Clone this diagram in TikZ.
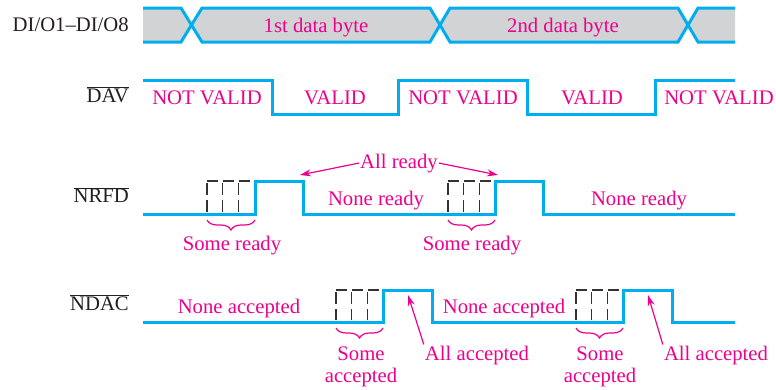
\documentclass[tikz,border=0pt]{standalone}
\usepackage{fontspec}
\setmainfont{Liberation Serif}
\usetikzlibrary{arrows.meta, decorations.pathreplacing, positioning}
\definecolor{sigcyan}{HTML}{00AEEF}
\definecolor{notepink}{HTML}{EC008C}
\definecolor{busgray}{HTML}{D1D3D4}
\definecolor{inkdark}{HTML}{231F20}
\tikzset{
  signame/.style={
    anchor=east, inner sep=1pt, text=inkdark,
    font=\fontsize{20.7}{23}\selectfont
  },
  note/.style={
    anchor=base, inner sep=1pt, text=notepink, align=center,
    font=\fontsize{20.7}{22}\selectfont
  },
  wave/.style={draw=sigcyan, line width=3pt, line join=miter},
  ghost/.style={draw=black!80, line width=1.2pt},
  pointer/.style={-{Stealth[length=11pt,width=7pt]}, draw=notepink, line width=1.2pt},
  curly/.style={
    draw=notepink, line width=1.2pt, decorate,
    decoration={brace, mirror, amplitude=10pt}
  }
}

\begin{document}
\begin{tikzpicture}[x=1pt, y=-1pt]
  \useasboundingbox (0,0) rectangle (776,389);

  % signal names
  \node[signame] (busname) at (130,25) {DI/O1--DI/O8};
  \node[signame] (davname) at (130,95) {\(\overline{\mbox{DAV}}\)};
  \node[signame] (nrfdname) at (130,195) {\(\overline{\mbox{NRFD}}\)};
  \node[signame] (ndacname) at (130,303) {\(\overline{\mbox{NDAC}}\)};

  % data bus
  \fill[busgray] (143,8) -- (181,8) -- (192,25) -- (202,8) -- (430,8) -- (440,25)
    -- (450,8) -- (678,8) -- (688,25) -- (698,8) -- (735,8) -- (735,42)
    -- (698,42) -- (688,25) -- (678,42) -- (450,42) -- (440,25) -- (430,42)
    -- (202,42) -- (192,25) -- (181,42) -- (143,42) -- cycle;
  \draw[wave] (143,8) -- (181,8) -- (202,42) -- (430,42) -- (450,8) -- (678,8)
    -- (698,42) -- (735,42);
  \draw[wave] (143,42) -- (181,42) -- (202,8) -- (430,8) -- (450,42) -- (678,42)
    -- (698,8) -- (735,8);
  \node[note] (byte1) at (316,32) {1st data byte};
  \node[note] (byte2) at (563,32) {2nd data byte};

  % DAV
  \draw[wave] (143,80) -- (272,80) -- (272,114) -- (398,114) -- (398,80)
    -- (527,80) -- (527,114) -- (655,114) -- (655,80) -- (735,80);
  \node[note] (nv1) at (207,104) {NOT VALID};
  \node[note] (v1) at (335,104) {VALID};
  \node[note] (nv2) at (463,104) {NOT VALID};
  \node[note] (v2) at (592,104) {VALID};
  \node[note] (nv3) at (719,104) {NOT VALID};

  % NRFD and NDAC
  \draw[wave] (143,214) -- (255,214) -- (255,181) -- (303,181) -- (303,214)
    -- (495,214) -- (495,181) -- (543,181) -- (543,214) -- (735,214);
  \draw[wave] (143,322) -- (383,322) -- (383,290) -- (432,290) -- (432,322)
    -- (623,322) -- (623,290) -- (672,290) -- (672,322) -- (735,322);

  \foreach \x/\hi/\lo/\e in {207/181/214/255, 448/181/214/495,
                             336/290/322/383, 576/290/322/623} {
    \draw[ghost, dash pattern=on 11pt off 5pt] (\x,\hi) -- ++(43,0);
    \foreach \k in {0,1,2}
      \draw[ghost, dash pattern=on 12pt off 5pt] (\x+15.7*\k,\hi+2) -- (\x+15.7*\k,\lo-2);
    \draw[curly] (\x,\lo+6) -- (\e,\lo+6);
  }

  \node[note] (allready) at (399,168) {All ready};
  \node[note] (noneready1) at (376,205) {None ready};
  \node[note] (noneready2) at (639,205) {None ready};
  \node[note] (someready1) at (232,250) {Some ready};
  \node[note] (someready2) at (472,250) {Some ready};

  \node[note] (noneacc1) at (239,313) {None accepted};
  \node[note] (noneacc2) at (504,313) {None accepted};
  \node[note] (someacc1) at (361,382) {Some\\accepted};
  \node[note] (someacc2) at (600,382) {Some\\accepted};
  \node[note] (allacc1) at (477,360) {All accepted};
  \node[note] (allacc2) at (716,360) {All accepted};

  \coordinate (nrfdtip1) at (300,175);
  \coordinate (nrfdtip2) at (498,175);
  \coordinate (ndactip1) at (408,295);
  \coordinate (ndactip2) at (648,295);

  \draw[pointer] (allready.west) -- (nrfdtip1);
  \draw[pointer] (allready.east) -- (nrfdtip2);
  \draw[pointer] (allacc1.north west) -- (ndactip1);
  \draw[pointer] (allacc2.north west) -- (ndactip2);
\end{tikzpicture}
\end{document}
